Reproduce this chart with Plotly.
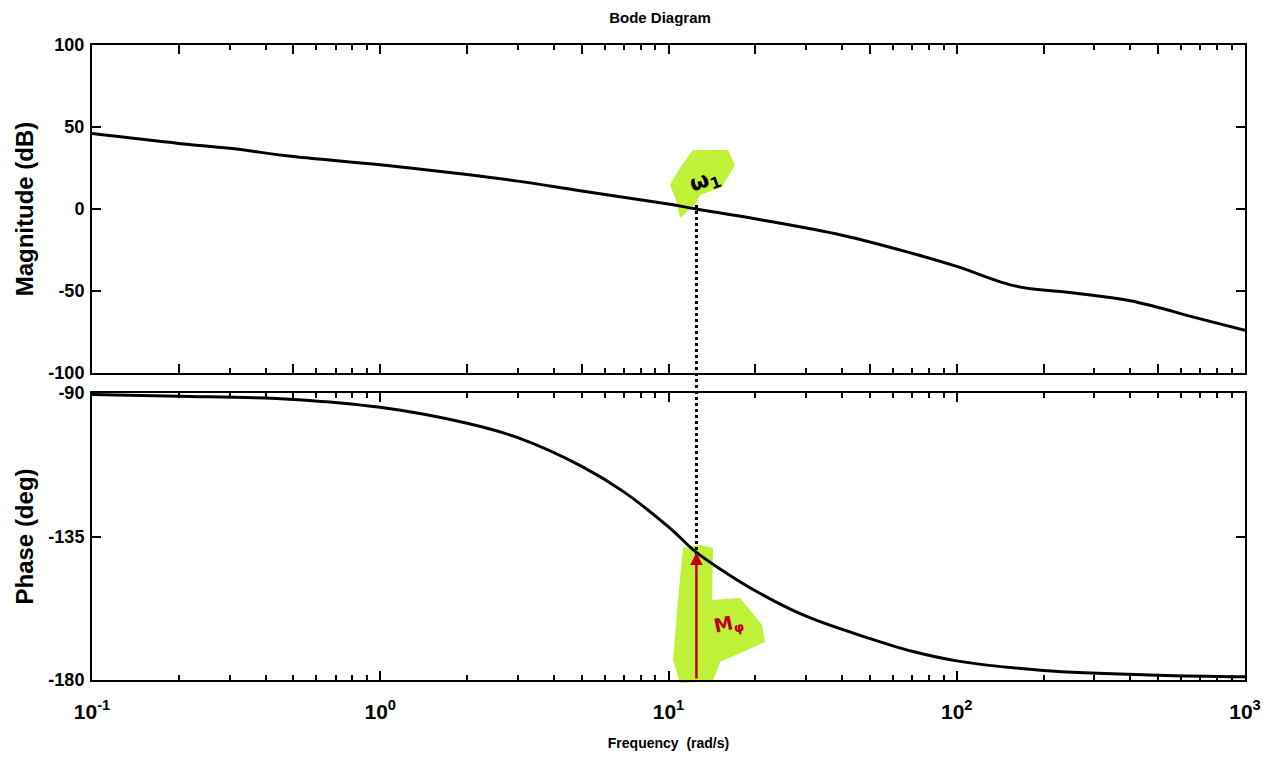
import math
import plotly.graph_objects as go

# ---- data ----
freq_mag = [0.1, 0.2, 0.3, 0.5, 1, 2, 3, 5, 10, 12.5, 20, 40, 70, 100, 160, 250, 400, 700, 1000]
mag_db   = [46, 40, 37, 32, 27, 21, 17, 11, 3, 0, -6, -16, -27, -35, -47, -51, -56, -67, -74]

freq_ph = [0.1, 0.2, 0.5, 1, 2, 3, 5, 7, 10, 12.5, 15, 20, 30, 50, 70, 100, 200, 500, 1000]
phase_deg = [-90.5, -91, -92, -94.5, -99.5, -104, -113, -121, -132, -140, -145, -152, -160, -167, -171, -174, -177, -178.5, -179]

crossover_w = 12.5
phase_at_crossover = -140

x_tickvals = [0.1, 1, 10, 100, 1000]
x_ticktext = ["<b>10<sup>-1</sup></b>", "<b>10<sup>0</sup></b>", "<b>10<sup>1</sup></b>",
              "<b>10<sup>2</sup></b>", "<b>10<sup>3</sup></b>"]
mag_ticks = [-100, -50, 0, 50, 100]
phase_ticks = [-180, -135, -90]

W, H = 1275, 758
OFF = 8  # page body margin
L, R, T, B = 84, 38, 37, 86
PW = W - L - R
PH = H - T - B

def px(x):
    return (x - OFF - L) / PW

def py(y):
    return (H - B - (y - OFF)) / PH

FONT = "Liberation Sans"
GREEN = "rgba(185,240,35,0.9)"

fig = go.Figure()
fig.add_trace(go.Scatter(x=freq_mag, y=mag_db, mode="lines", line=dict(color="black", width=3),
                         xaxis="x", yaxis="y", showlegend=False, line_shape="spline"))
fig.add_trace(go.Scatter(x=freq_ph, y=phase_deg, mode="lines", line=dict(color="black", width=3),
                         xaxis="x2", yaxis="y2", showlegend=False, line_shape="spline"))

common_x = dict(type="log", range=[-1, 3], showgrid=False, zeroline=False,
                showline=True, linecolor="black", linewidth=2, mirror="ticks",
                ticks="inside", ticklen=9, tickwidth=2, tickcolor="black", automargin=False,
                minor=dict(ticks="inside", ticklen=5, tickwidth=1.5, tickcolor="black", dtick="D1", showgrid=False))
common_y = dict(showgrid=False, zeroline=False, showline=True, linecolor="black", linewidth=2,
                mirror="ticks", ticks="inside", ticklen=9, tickwidth=2, tickcolor="black",
                automargin=False, ticklabelstandoff=2,
                tickfont=dict(family=FONT, size=18, color="black"))

mag_bottom = py(373)
ph_top = py(393)

fig.update_layout(
    width=W, height=H,
    margin=dict(l=L, r=R, t=T, b=B),
    paper_bgcolor="white", plot_bgcolor="white",
    font=dict(family=FONT, color="black"),
    xaxis=dict(common_x, domain=[0, 1], anchor="y", showticklabels=False),
    xaxis2=dict(common_x, domain=[0, 1], anchor="y2", matches="x",
                tickvals=x_tickvals, ticktext=x_ticktext, ticklabelstandoff=12,
                tickfont=dict(family=FONT, size=21, color="black"),
                title=dict(text="<b>Frequency  (rad/s)</b>", font=dict(family=FONT, size=14), standoff=16)),
    yaxis=dict(common_y, domain=[mag_bottom, 1], anchor="x", range=[-100, 100], tickvals=mag_ticks,
               ticktext=[f"<b>{v}</b>" for v in mag_ticks],
               title=dict(text="<b>Magnitude (dB)</b>", font=dict(family=FONT, size=24), standoff=8)),
    yaxis2=dict(common_y, domain=[0, ph_top], anchor="x2", range=[-180, -90], tickvals=phase_ticks,
                ticktext=[f"<b>{v}</b>" for v in phase_ticks],
                title=dict(text="<b>Phase (deg)</b>", font=dict(family=FONT, size=24), standoff=8)),
    title=dict(text="<b>Bode Diagram</b>", x=px(660), xanchor="center", xref="paper",
               y=1 - 10 / H, yanchor="middle",
               font=dict(family=FONT, size=15, color="black")),
)

# paper-x of crossover frequency
cx = (math.log10(crossover_w) + 1) / 4

def blob(points):
    return "M " + " L ".join(f"{px(a)},{py(b)}" for a, b in points) + " Z"

shapes = [
    dict(type="path", xref="paper", yref="paper", layer="below",
         path=blob([(693, 150), (728, 150), (735, 165), (722, 187), (700, 195), (695, 205),
                    (680, 218), (676, 200), (670, 185), (680, 168)]),
         fillcolor=GREEN, line=dict(width=0)),
    dict(type="path", xref="paper", yref="paper", layer="below",
         path=blob([(683, 548), (700, 545), (713, 548), (712, 600), (740, 598), (762, 625),
                    (765, 642), (720, 662), (713, 681), (680, 683), (673, 660), (678, 600)]),
         fillcolor=GREEN, line=dict(width=0)),
    dict(type="line", xref="paper", yref="paper", x0=cx, x1=cx, y0=py(205), y1=py(556),
         line=dict(color="black", width=3, dash="dot")),
]
fig.update_layout(shapes=shapes)

lx = math.log10(crossover_w)
fig.add_annotation(x=lx, y=phase_at_crossover, xref="x2", yref="y2",
                   ax=lx, ay=-180, axref="x2", ayref="y2",
                   showarrow=True, arrowhead=2, arrowsize=1, arrowwidth=2.5, arrowcolor="#c0001a", text="")
fig.add_annotation(x=px(705), y=py(160), xref="paper", yref="paper", showarrow=False,
                   text="<b>ω<sub>1</sub></b>", font=dict(family="DejaVu Sans", size=22, color="black"),
                   textangle=-20)
fig.add_annotation(x=px(728), y=py(642), xref="paper", yref="paper", showarrow=False,
                   text="<b>M<sub>φ</sub></b>", font=dict(family="DejaVu Sans", size=19, color="#c0001a"),
                   textangle=-12)

fig.write_html("out.html")
